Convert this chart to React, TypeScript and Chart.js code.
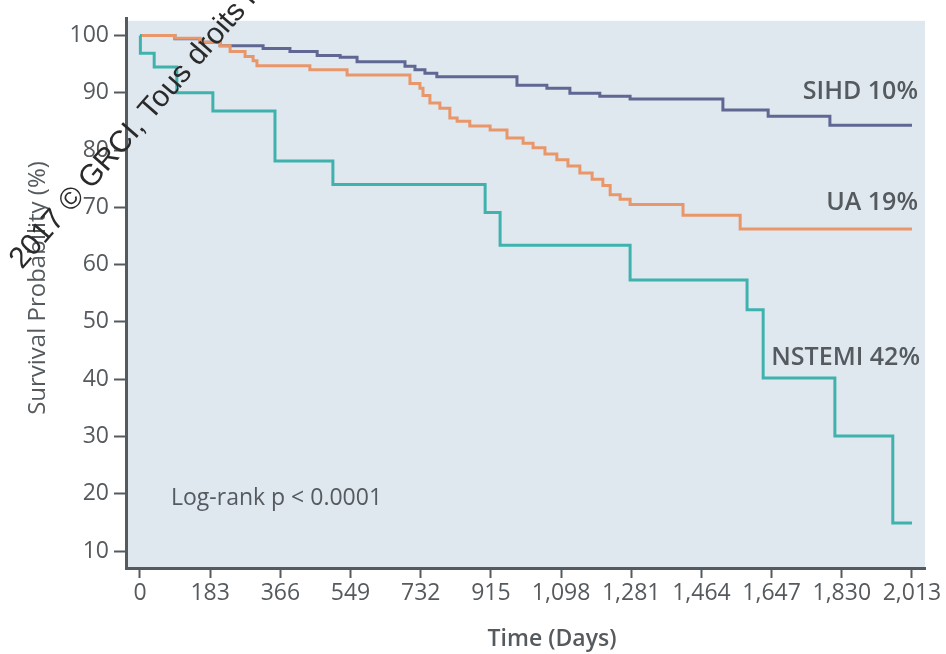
import React, { useEffect, useRef } from 'react';
import { Chart, registerables } from 'chart.js';

Chart.register(...registerables);

// ---- Data ----
const xTickValues = [0, 183, 366, 549, 732, 915, 1098, 1281, 1464, 1647, 1830, 2013];
const yTickValues = [10, 20, 30, 40, 50, 60, 70, 80, 90, 100];

const sihdDays = [0, 91, 156, 209, 321, 391, 462, 522, 566, 691, 717, 743, 774, 983, 1061, 1121, 1199, 1278, 1520, 1638, 1799, 2013];
const sihdSurvival = [100, 99.4, 98.8, 98.2, 97.7, 97.2, 96.5, 96.2, 95.4, 94.6, 94.0, 93.4, 92.8, 91.3, 90.8, 89.9, 89.4, 88.9, 87.0, 85.9, 84.3, 84.3];

const uaDays = [0, 91, 156, 209, 235, 274, 295, 305, 443, 540, 704, 730, 738, 756, 782, 808, 827, 860, 913, 957, 999, 1025, 1056, 1087, 1116, 1147, 1179, 1207, 1226, 1252, 1278, 1416, 1565, 2013];
const uaSurvival = [100, 99.5, 98.8, 98.2, 97.2, 96.3, 95.6, 94.7, 94.0, 93.1, 91.6, 90.8, 89.5, 88.2, 87.3, 85.6, 85.0, 84.2, 83.5, 82.1, 81.2, 80.4, 79.3, 78.3, 77.2, 76.0, 74.9, 73.8, 72.2, 71.4, 70.5, 68.6, 66.2, 66.2];

const nstemiDays = [0, 1, 37, 96, 190, 352, 503, 900, 939, 1278, 1583, 1625, 1812, 1963, 2013];
const nstemiSurvival = [100, 96.9, 94.5, 90.0, 86.8, 78.1, 74.0, 69.1, 63.4, 57.3, 52.1, 40.2, 30.1, 14.9, 14.9];

const seriesNames = ['NSTEMI 42%', 'UA 19%', 'SIHD 10%'];
const pValueText = 'Log-rank p < 0.0001';
const xTitle = 'Time (Days)';
const yTitle = 'Survival Probability (%)';
const watermarkText = '2017 © GRCI, Tous droits réservés';

const toPoints = (xs: number[], ys: number[]) => xs.map((x, i) => ({ x, y: ys[i] }));

const FONT = '"Open Sans", "DejaVu Sans", sans-serif';
const TEXT = '#555a5e';
const AXIS = '#555a5e';

const decorPlugin = {
  id: 'decor',
  beforeDraw(chart: any) {
    const { ctx, chartArea: a } = chart;
    ctx.save();
    ctx.fillStyle = '#ffffff';
    ctx.fillRect(0, 0, chart.width, chart.height);
    ctx.fillStyle = '#dfe8ef';
    ctx.fillRect(a.left, a.top + 2, a.right - a.left, a.bottom - a.top - 2);
    ctx.restore();
  },
  afterDraw(chart: any) {
    const { ctx } = chart;
    ctx.save();
    ctx.fillStyle = TEXT;
    ctx.textBaseline = 'middle';

    ctx.font = `600 25px ${FONT}`;
    ctx.textAlign = 'right';
    ctx.fillText(seriesNames[2], 918, 92);
    ctx.fillText(seriesNames[1], 918, 203);
    ctx.fillText(seriesNames[0], 920, 358);

    ctx.font = `400 23px ${FONT}`;
    ctx.textAlign = 'left';
    ctx.fillText(pValueText, 171, 498);

    ctx.font = `600 23px ${FONT}`;
    ctx.textAlign = 'center';
    ctx.fillText(xTitle, 552, 639);

    ctx.save();
    ctx.translate(38, 288);
    ctx.rotate(-Math.PI / 2);
    ctx.font = `400 24px ${FONT}`;
    ctx.fillText(yTitle, 0, 0);
    ctx.restore();

    // watermark
    ctx.save();
    ctx.translate(22, 270);
    ctx.rotate(-49 * Math.PI / 180);
    ctx.font = `400 30px "Liberation Sans", Arial, sans-serif`;
    ctx.fillStyle = '#2a2a2a';
    ctx.textAlign = 'left';
    ctx.textBaseline = 'alphabetic';
    ctx.fillText(watermarkText, 0, 0);
    ctx.restore();

    ctx.restore();
  },
};

export default function App() {
  const ref = useRef<HTMLCanvasElement | null>(null);

  useEffect(() => {
    document.body.style.margin = '0';
    const canvas = ref.current;
    if (!canvas) return;
    const common = {
      pointRadius: 0,
      pointHoverRadius: 0,
      borderWidth: 3,
      stepped: 'before' as const,
      fill: false,
      tension: 0,
    };
    const chart = new Chart(canvas, {
      type: 'line',
      data: {
        datasets: [
          { ...common, label: seriesNames[0], data: toPoints(nstemiDays, nstemiSurvival), borderColor: '#3fb2ae' },
          { ...common, label: seriesNames[1], data: toPoints(uaDays, uaSurvival), borderColor: '#e9966a' },
          { ...common, label: seriesNames[2], data: toPoints(sihdDays, sihdSurvival), borderColor: '#5f6792' },
        ],
      },
      options: {
        animation: false,
        responsive: false,
        devicePixelRatio: 1,
        layout: { padding: { left: 0, top: 15, right: 21, bottom: 0 } },
        plugins: { legend: { display: false }, tooltip: { enabled: false } },
        scales: {
          x: {
            type: 'linear',
            min: -36.5,
            max: 2047,
            afterBuildTicks: (s: any) => { s.ticks = xTickValues.map((v) => ({ value: v })); },
            afterFit: (s: any) => { s.height = 86; },
            grid: { drawOnChartArea: false, drawTicks: true, tickLength: 10, tickWidth: 2, tickColor: AXIS },
            border: { display: true, color: AXIS, width: 3 },
            ticks: {
              autoSkip: false,
              maxRotation: 0,
              padding: 2,
              color: TEXT,
              font: { family: FONT, size: 23 },
              callback: (v: any) => Number(v).toLocaleString('en-US'),
            },
          },
          y: {
            type: 'linear',
            min: 7.05,
            max: 102.9,
            afterBuildTicks: (s: any) => { s.ticks = yTickValues.map((v) => ({ value: v })); },
            afterFit: (s: any) => { s.width = 126; },
            grid: { drawOnChartArea: false, drawTicks: true, tickLength: 12, tickWidth: 2, tickColor: AXIS },
            border: { display: true, color: AXIS, width: 3 },
            ticks: {
              autoSkip: false,
              padding: 5,
              color: TEXT,
              font: { family: FONT, size: 23 },
              callback: (v: any) => String(v),
            },
          },
        },
      },
      plugins: [decorPlugin],
    });
    return () => chart.destroy();
  }, []);

  return (
    <div style={{ position: 'absolute', left: 0, top: 0, width: 946, height: 654 }}>
      <canvas ref={ref} width={946} height={654} />
    </div>
  );
}
